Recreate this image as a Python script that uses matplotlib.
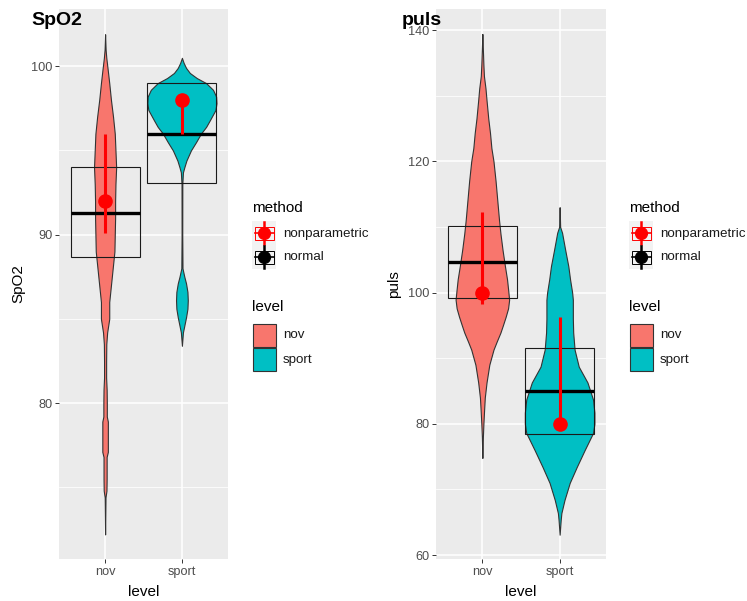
import numpy as np
import matplotlib.pyplot as plt
from matplotlib.patches import Rectangle

plt.rcParams['font.family'] = ['Liberation Sans', 'DejaVu Sans']

W, H = 747, 601

levels = ['nov', 'sport']
methods = ['nonparametric', 'normal']
method_colors = ['red', 'black']
fills = ['#F8766D', '#00BFC4']

# violin outlines: y values and relative density (1 = widest)
spo2_nov_y = [101.9, 101.0, 100.5, 99.9, 99.0, 98.0, 97.0, 96.0, 95.0, 94.0, 93.0, 92.0,
              91.0, 90.0, 89.0, 88.0, 87.0, 86.0, 85.0, 84.2, 83.5, 82.5, 81.5, 80.8,
              80.0, 79.2, 78.9, 78.0, 77.1, 76.8, 75.5, 74.8, 74.4, 72.2]
spo2_nov_d = [0, .015, .035, .07, .12, .17, .23, .28, .30, .32, .30, .29,
              .29, .28, .27, .22, .17, .12, .12, .06, .035, .03, .03, .045,
              .05, .05, .08, .08, .08, .045, .045, .04, .012, 0]

spo2_sport_y = [100.5, 100.2, 99.9, 99.6, 99.3, 99.0, 98.6, 98.2, 97.8, 97.4, 96.8, 96.4,
                96.0, 95.5, 95.0, 94.4, 94.0, 93.7, 93.0, 90.0, 88.0, 87.5, 87.1, 86.6,
                86.1, 85.6, 85.1, 84.6, 84.2, 83.4]
spo2_sport_d = [0, .05, .12, .23, .43, .70, .90, .99, 1.0, .97, .81, .70,
                .55, .41, .26, .13, .07, .03, .012, .01, .017, .07, .12, .16,
                .17, .16, .12, .07, .03, 0]

puls_nov_y = [139.4, 137.0, 134.7, 133.0, 131.1, 129.3, 126.5, 124.3, 122.0, 120.0, 117.0,
              114.0, 111.0, 109.0, 106.5, 104.0, 102.0, 100.0, 98.9, 97.6, 96.3, 95.0,
              93.9, 92.5, 91.3, 89.0, 86.3, 84.0, 82.1, 80.0, 78.0, 74.8]
puls_nov_d = [0, .015, .03, .045, .09, .12, .17, .22, .26, .32, .38,
              .43, .48, .52, .58, .65, .71, .75, .77, .74, .67, .59,
              .52, .41, .32, .20, .12, .07, .05, .03, .015, 0]

puls_sport_y = [113.0, 110.0, 109.1, 106.5, 104.0, 102.0, 100.0, 98.9, 96.0, 93.9, 91.3, 88.7,
                86.3, 83.7, 81.7, 80.0, 78.6, 76.0, 73.4, 71.0, 68.4, 66.4, 65.3, 63.1]
puls_sport_d = [0, .015, .07, .16, .25, .30, .36, .38, .38, .39, .43, .55,
                .80, .96, 1.0, 1.0, .96, .72, .49, .29, .14, .05, .03, 0]

# normal method (crossbar): lower, middle, upper
spo2_normal = [[88.7, 91.3, 94.0], [93.05, 96.0, 99.0]]
puls_normal = [[99.2, 104.6, 110.1], [78.5, 85.0, 91.5]]

# nonparametric method (pointrange): lower, point, upper
spo2_nonpar = [[90.1, 92.0, 96.0], [96.0, 98.0, 98.0]]
puls_nonpar = [[98.3, 100.0, 112.2], [79.5, 80.0, 96.2]]

spo2_major = [80, 90, 100]
spo2_minor = [75, 85, 95]
puls_major = [60, 80, 100, 120, 140]
puls_minor = [70, 90, 110, 130]


def px_axes(fig, x0, x1, y0, y1):
    return fig.add_axes([x0 / W, 1 - y1 / H, (x1 - x0) / W, (y1 - y0) / H])


def panel(ax, violins, normal, nonpar, ylim, major, minor):
    ax.set_facecolor('#EBEBEB')
    for s in ax.spines.values():
        s.set_visible(False)
    ax.set_xlim(0.4, 2.6)
    ax.set_ylim(*ylim)
    ax.set_xticks([1, 2])
    ax.set_xticklabels(levels)
    ax.set_yticks(major)
    ax.set_yticks(minor, minor=True)
    ax.set_axisbelow(True)
    ax.grid(which='major', color='white', lw=1.1)
    ax.grid(which='minor', axis='y', color='white', lw=0.55)
    ax.tick_params(which='major', color='#333333', labelcolor='#4D4D4D', labelsize=9.2,
                   length=2.8, width=0.7, pad=2)
    ax.tick_params(which='minor', length=0)

    for i, (y, d) in enumerate(violins):
        x = i + 1
        w = 0.45 * np.array(d)
        ax.fill_betweenx(y, x - w, x + w, facecolor=fills[i], edgecolor='#333333',
                         lw=0.8, zorder=2)

    for i, (lo, mid, hi) in enumerate(normal):
        x = i + 1
        ax.add_patch(Rectangle((x - 0.45, lo), 0.9, hi - lo, fill=False,
                               ec='#1A1A1A', lw=0.8, zorder=3))
        ax.plot([x - 0.45, x + 0.45], [mid, mid], color='black', lw=2.4,
                solid_capstyle='butt', zorder=3)

    for i, (lo, mid, hi) in enumerate(nonpar):
        x = i + 1
        ax.plot([x, x], [lo, hi], color='red', lw=2.2, solid_capstyle='butt', zorder=4)
        ax.plot(x, mid, 'o', color='red', ms=9.5, zorder=5)


def draw_legend(ov, x0):
    ov.text(x0, 208, 'method', fontsize=11, va='center', ha='left', color='black')
    for j, m in enumerate(methods):
        ky = 221 + 24 * j
        c = method_colors[j]
        ov.add_patch(Rectangle((x0, ky), 24, 24, fc='#F2F2F2', ec='none'))
        ov.add_patch(Rectangle((x0 + 2.5, ky + 5.5), 19, 13, fill=False, ec=c, lw=0.7))
        ov.plot([x0 + 2.5, x0 + 21.5], [ky + 12, ky + 12], color=c, lw=1.2)
        ov.plot([x0 + 12, x0 + 12], [ky + 1, ky + 23], color=c, lw=1.8)
        ov.plot(x0 + 12, ky + 12, 'o', color=c, ms=8.5)
        ov.text(x0 + 31, ky + 12.5, m, fontsize=9.6, va='center', ha='left', color='#1A1A1A')

    ov.text(x0, 307, 'level', fontsize=11, va='center', ha='left', color='black')
    for j, lv in enumerate(levels):
        ky = 323 + 24 * j
        ov.add_patch(Rectangle((x0 + 0.5, ky + 0.5), 23, 23, fc=fills[j], ec='#333333', lw=0.8))
        ov.text(x0 + 31, ky + 12.5, lv, fontsize=9.6, va='center', ha='left', color='#1A1A1A')


fig = plt.figure(figsize=(W / 100, H / 100), dpi=100)

ax1 = px_axes(fig, 59, 228, 9, 559)
panel(ax1, [(spo2_nov_y, spo2_nov_d), (spo2_sport_y, spo2_sport_d)],
      spo2_normal, spo2_nonpar, (70.74, 103.4), spo2_major, spo2_minor)

ax2 = px_axes(fig, 436, 606, 9, 559)
panel(ax2, [(puls_nov_y, puls_nov_d), (puls_sport_y, puls_sport_d)],
      puls_normal, puls_nonpar, (59.4, 143.2), puls_major, puls_minor)

ov = fig.add_axes([0, 0, 1, 1], zorder=10)
ov.set_xlim(0, W)
ov.set_ylim(H, 0)
ov.axis('off')

for x0, title, ylab, ylx, xlx in [(31, 'SpO2', 'SpO2', 18, 143.5), (402, 'puls', 'puls', 394, 521)]:
    ov.text(x0, 25, title, fontsize=14, fontweight='bold', va='baseline', ha='left')
    ov.text(ylx, 284, ylab, fontsize=11, rotation=90, va='center', ha='center')
    ov.text(xlx, 592, 'level', fontsize=11, va='center', ha='center')

draw_legend(ov, 252)
draw_legend(ov, 629)

fig.savefig('out.png', dpi=100)
